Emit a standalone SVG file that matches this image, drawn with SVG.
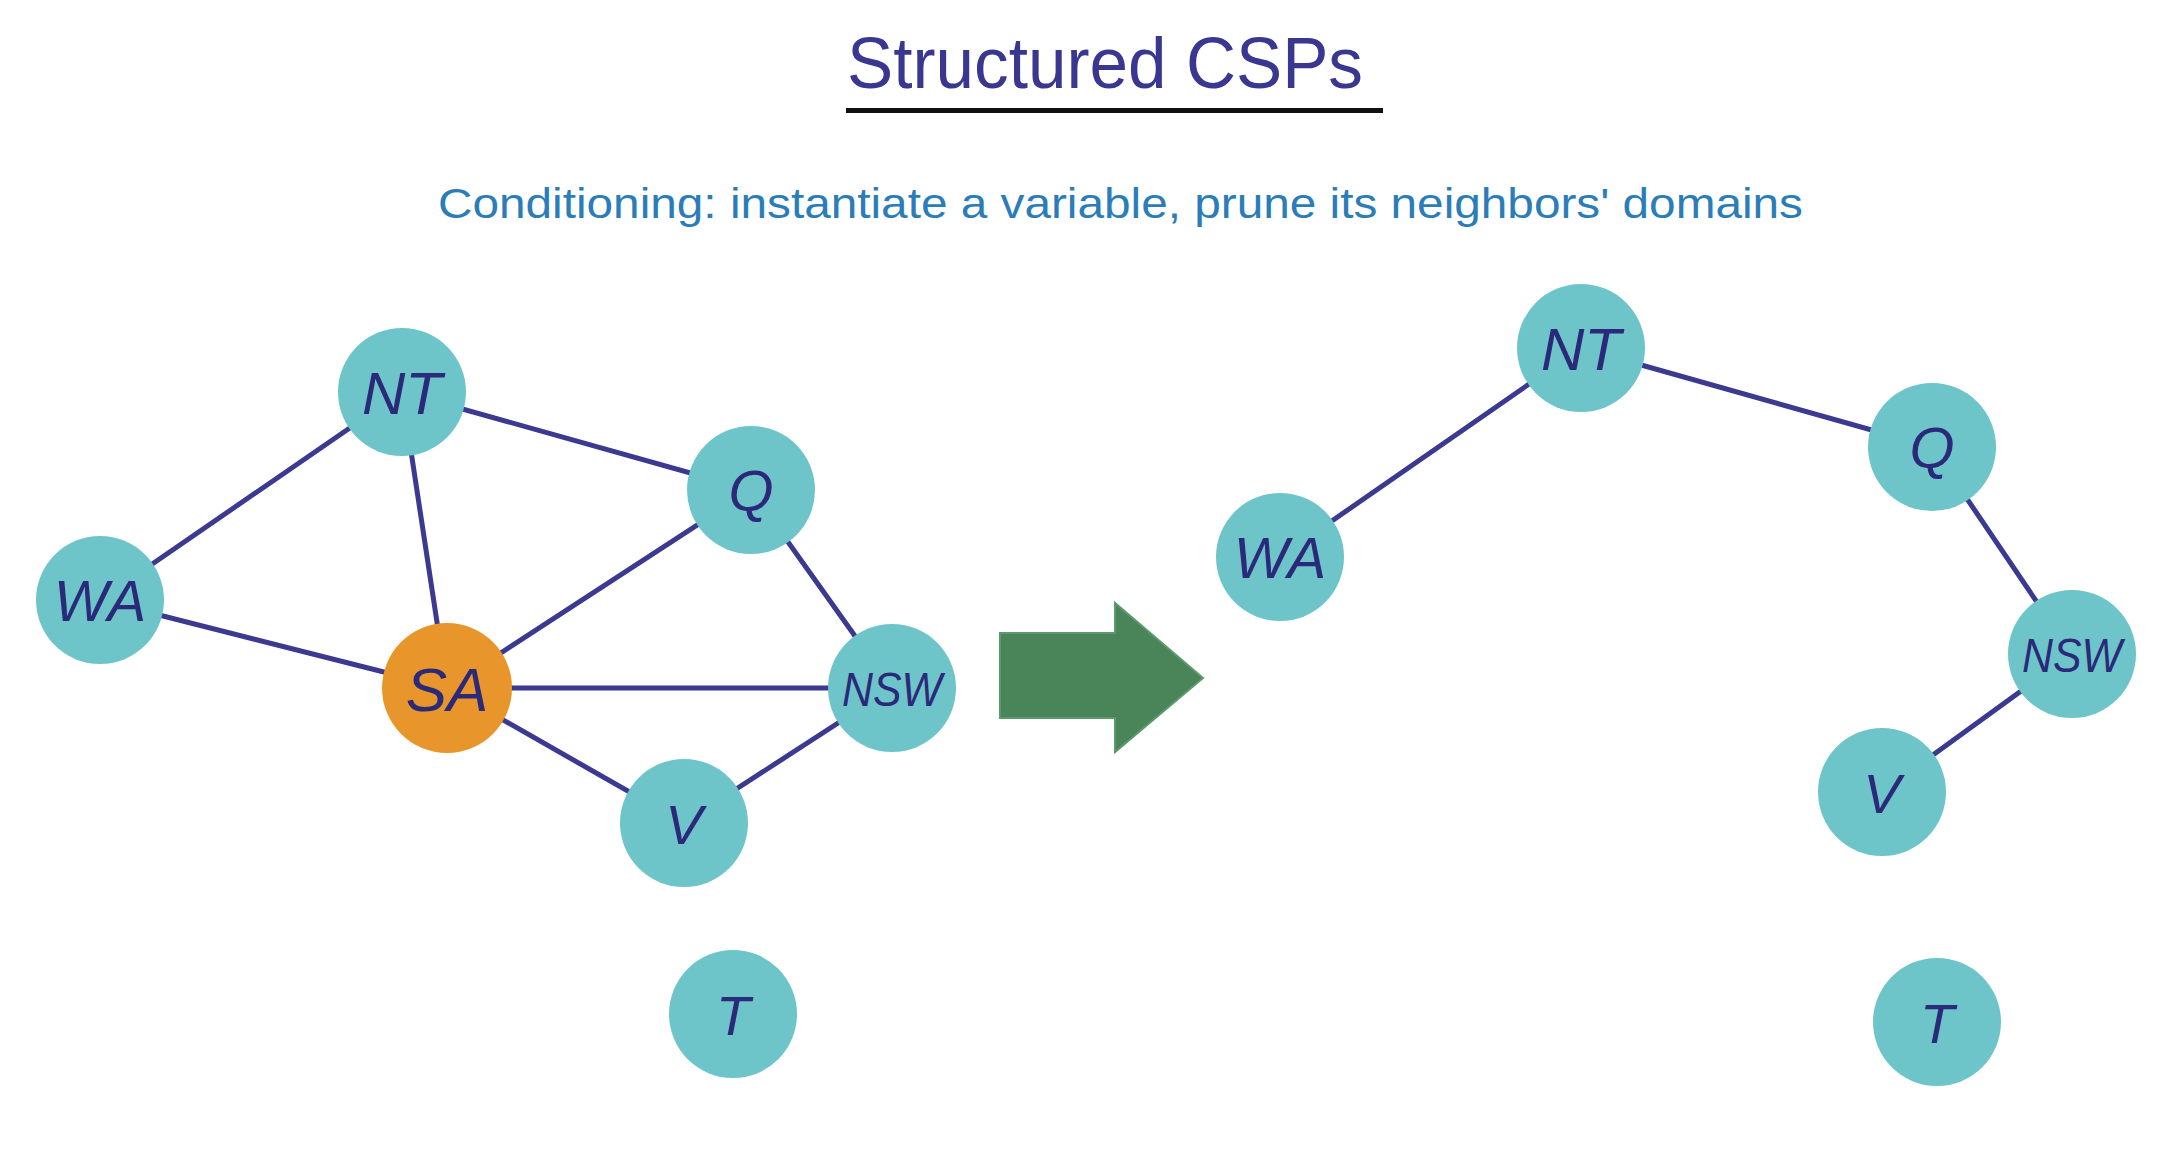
<svg xmlns="http://www.w3.org/2000/svg" width="2172" height="1168" viewBox="0 0 2172 1168">
<style>
  .bg { fill: #ffffff; }
  .node { fill: #6ec5c9; }
  .sel { fill: #e8952b; }
  .lbl { font-family: "Liberation Sans", "DejaVu Sans", sans-serif; font-style: italic; fill: #2b2a7a; text-anchor: middle; }
  .edge { stroke: #3b3990; stroke-width: 5; stroke-linecap: round; fill: none; }
  .title { font-family: "Liberation Sans", "DejaVu Sans", sans-serif; font-size: 72px; fill: #3a3790; }
  .sub { font-family: "Liberation Sans", "DejaVu Sans", sans-serif; font-size: 42px; fill: #2a7db8; }
</style>
<rect class="bg" x="0" y="0" width="2172" height="1168"/>
<g id="title">
  <text class="title" x="847" y="88" textLength="516" lengthAdjust="spacingAndGlyphs">Structured CSPs</text>
  <rect x="846" y="108" width="537" height="5" fill="#111111"/>
</g>
<g id="subtitle">
  <text class="sub" x="438" y="218" textLength="1365" lengthAdjust="spacingAndGlyphs">Conditioning: instantiate a variable, prune its neighbors' domains</text>
</g>
<g id="connectors">
  <line class="edge" x1="100" y1="600" x2="402" y2="392"/>
  <line class="edge" x1="100" y1="600" x2="447" y2="688"/>
  <line class="edge" x1="402" y1="392" x2="447" y2="688"/>
  <line class="edge" x1="402" y1="392" x2="751" y2="490"/>
  <line class="edge" x1="447" y1="688" x2="751" y2="490"/>
  <line class="edge" x1="447" y1="688" x2="892" y2="688"/>
  <line class="edge" x1="751" y1="490" x2="892" y2="688"/>
  <line class="edge" x1="447" y1="688" x2="684" y2="823"/>
  <line class="edge" x1="684" y1="823" x2="892" y2="688"/>
  <line class="edge" x1="1280" y1="557" x2="1581" y2="348"/>
  <line class="edge" x1="1581" y1="348" x2="1932" y2="447"/>
  <line class="edge" x1="1932" y1="447" x2="2072" y2="654"/>
  <line class="edge" x1="2072" y1="654" x2="1882" y2="792"/>
</g>
<g id="arrow">
  <polygon points="1000,633 1115,633 1115,603 1203,678 1115,752 1115,718 1000,718" fill="#4a8459" stroke="#5a9a6c" stroke-width="2"/>
</g>
<g id="L-NT"><circle class="node" cx="402" cy="392" r="64"/><text class="lbl" x="402" y="414" font-size="60">NT</text></g>
<g id="L-WA"><circle class="node" cx="100" cy="600" r="64"/><text class="lbl" x="100" y="621" font-size="58">WA</text></g>
<g id="L-Q"><circle class="node" cx="751" cy="490" r="64"/><text class="lbl" x="751" y="511" font-size="58">Q</text></g>
<g id="L-SA"><circle class="sel" cx="447" cy="688" r="65"/><text class="lbl" x="447" y="711" font-size="62">SA</text></g>
<g id="L-NSW"><circle class="node" cx="892" cy="688" r="64"/><text class="lbl" x="892" y="706" font-size="48" textLength="100" lengthAdjust="spacingAndGlyphs">NSW</text></g>
<g id="L-V"><circle class="node" cx="684" cy="823" r="64"/><text class="lbl" x="684" y="844" font-size="56">V</text></g>
<g id="L-T"><circle class="node" cx="733" cy="1014" r="64"/><text class="lbl" x="733" y="1035" font-size="56">T</text></g>
<g id="R-NT"><circle class="node" cx="1581" cy="348" r="64"/><text class="lbl" x="1581" y="370" font-size="60">NT</text></g>
<g id="R-WA"><circle class="node" cx="1280" cy="557" r="64"/><text class="lbl" x="1280" y="578" font-size="58">WA</text></g>
<g id="R-Q"><circle class="node" cx="1932" cy="447" r="64"/><text class="lbl" x="1932" y="468" font-size="58">Q</text></g>
<g id="R-NSW"><circle class="node" cx="2072" cy="654" r="64"/><text class="lbl" x="2072" y="672" font-size="48" textLength="100" lengthAdjust="spacingAndGlyphs">NSW</text></g>
<g id="R-V"><circle class="node" cx="1882" cy="792" r="64"/><text class="lbl" x="1882" y="813" font-size="56">V</text></g>
<g id="R-T"><circle class="node" cx="1937" cy="1022" r="64"/><text class="lbl" x="1937" y="1043" font-size="56">T</text></g>
</svg>
